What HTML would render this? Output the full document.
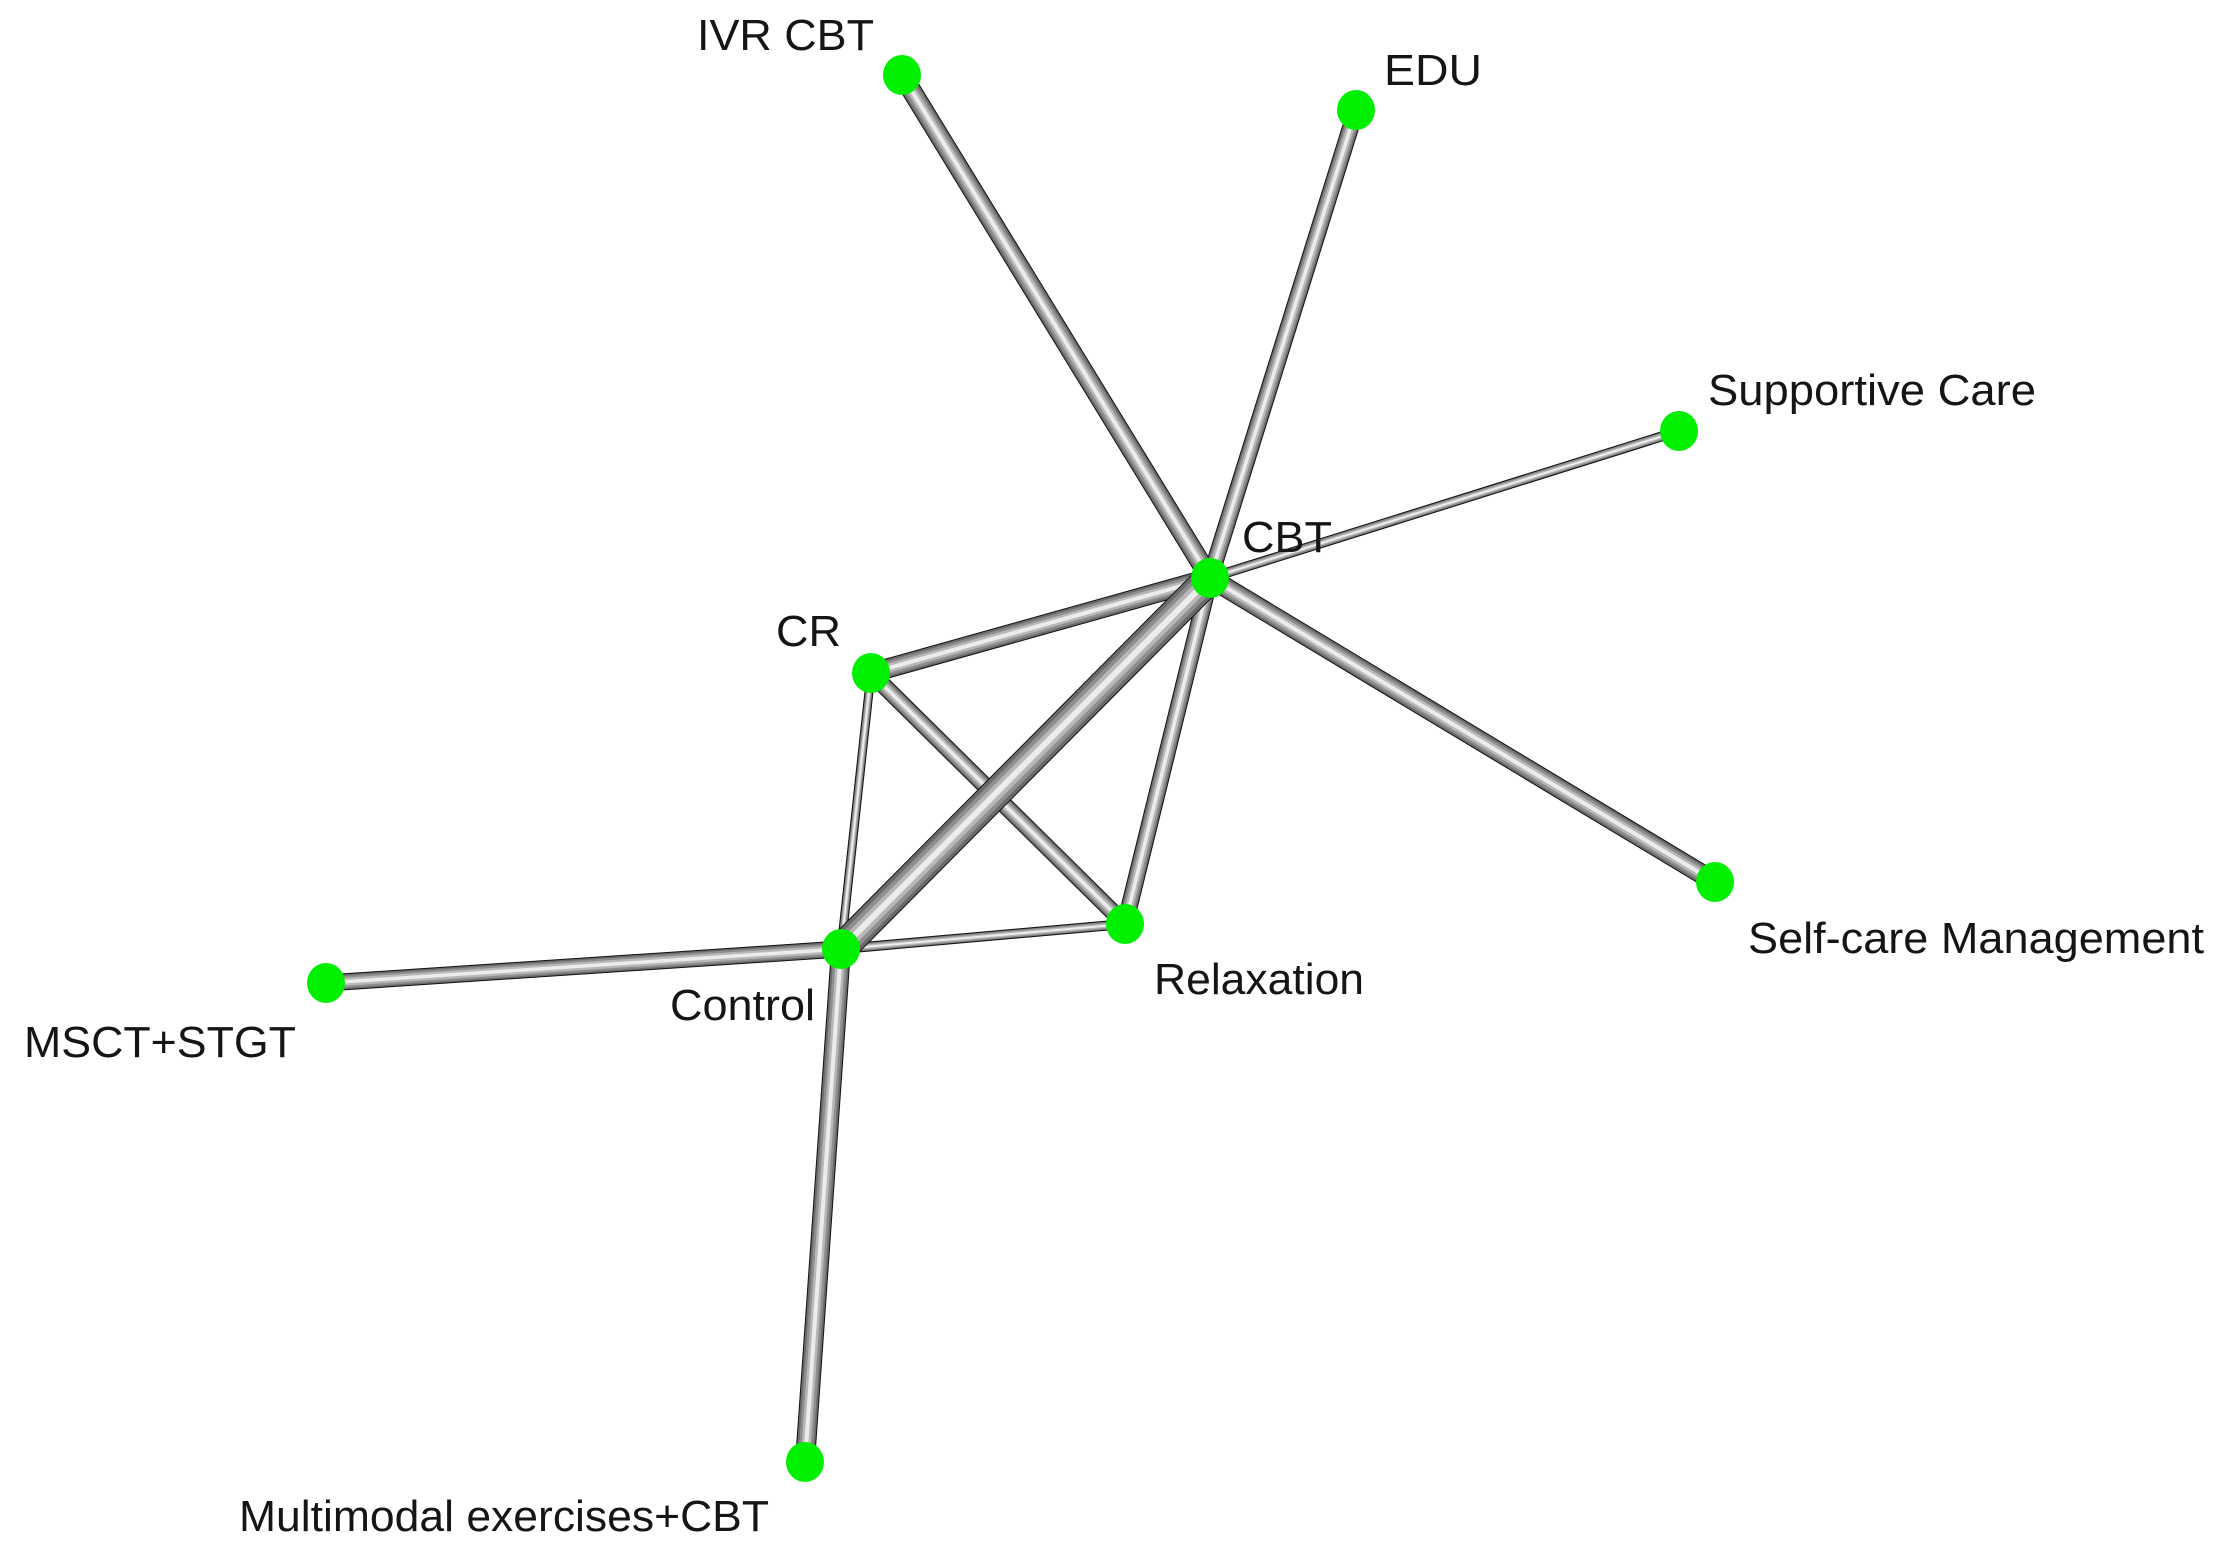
<!DOCTYPE html>
<html><head><meta charset="utf-8"><style>
html,body{margin:0;padding:0;background:#fff;}
svg{display:block;}
text{font-family:"Liberation Sans",Arial,sans-serif;font-size:44px;fill:#151515;}
</style></head><body>
<svg width="2221" height="1562" viewBox="0 0 2221 1562" xmlns="http://www.w3.org/2000/svg" xmlns:xlink="http://www.w3.org/1999/xlink">
<defs>
<line id="e1" x1="902" y1="75" x2="1210" y2="578"/>
<line id="e2" x1="1356" y1="110" x2="1210" y2="578"/>
<line id="e3" x1="1679" y1="431" x2="1210" y2="578"/>
<line id="e4" x1="1715" y1="882" x2="1210" y2="578"/>
<line id="e5" x1="871" y1="673" x2="1210" y2="578"/>
<line id="e6" x1="871" y1="673" x2="1125" y2="924"/>
<line id="e7" x1="871" y1="673" x2="841" y2="949"/>
<line id="e8" x1="841" y1="949" x2="1125" y2="924"/>
<line id="e9" x1="1210" y1="578" x2="1125" y2="924"/>
<line id="e10" x1="1210" y1="578" x2="841" y2="949"/>
<line id="e11" x1="326" y1="983" x2="841" y2="949"/>
<line id="e12" x1="805" y1="1462" x2="841" y2="949"/>
</defs>
<g fill="none">
<g stroke="#111"><use href="#e1" xlink:href="#e1" stroke-width="20"/><use href="#e2" xlink:href="#e2" stroke-width="17"/><use href="#e3" xlink:href="#e3" stroke-width="10"/><use href="#e4" xlink:href="#e4" stroke-width="20"/><use href="#e5" xlink:href="#e5" stroke-width="20"/><use href="#e6" xlink:href="#e6" stroke-width="17"/><use href="#e7" xlink:href="#e7" stroke-width="9"/><use href="#e8" xlink:href="#e8" stroke-width="10"/><use href="#e9" xlink:href="#e9" stroke-width="17"/><use href="#e11" xlink:href="#e11" stroke-width="17"/><use href="#e12" xlink:href="#e12" stroke-width="20"/></g>
<g stroke="#6a6a6a"><use href="#e1" xlink:href="#e1" stroke-width="18"/><use href="#e2" xlink:href="#e2" stroke-width="15"/><use href="#e3" xlink:href="#e3" stroke-width="8"/><use href="#e4" xlink:href="#e4" stroke-width="18"/><use href="#e5" xlink:href="#e5" stroke-width="18"/><use href="#e6" xlink:href="#e6" stroke-width="15"/><use href="#e7" xlink:href="#e7" stroke-width="7"/><use href="#e8" xlink:href="#e8" stroke-width="8"/><use href="#e9" xlink:href="#e9" stroke-width="15"/><use href="#e11" xlink:href="#e11" stroke-width="15"/><use href="#e12" xlink:href="#e12" stroke-width="18"/></g>
<g stroke="#8e8e8e"><use href="#e1" xlink:href="#e1" stroke-width="14"/><use href="#e2" xlink:href="#e2" stroke-width="12"/><use href="#e3" xlink:href="#e3" stroke-width="7"/><use href="#e4" xlink:href="#e4" stroke-width="14"/><use href="#e5" xlink:href="#e5" stroke-width="14"/><use href="#e6" xlink:href="#e6" stroke-width="12"/><use href="#e7" xlink:href="#e7" stroke-width="6"/><use href="#e8" xlink:href="#e8" stroke-width="7"/><use href="#e9" xlink:href="#e9" stroke-width="12"/><use href="#e11" xlink:href="#e11" stroke-width="12"/><use href="#e12" xlink:href="#e12" stroke-width="14"/></g>
<g stroke="#b8b8b8"><use href="#e1" xlink:href="#e1" stroke-width="9"/><use href="#e2" xlink:href="#e2" stroke-width="8"/><use href="#e3" xlink:href="#e3" stroke-width="4.5"/><use href="#e4" xlink:href="#e4" stroke-width="9"/><use href="#e5" xlink:href="#e5" stroke-width="9"/><use href="#e6" xlink:href="#e6" stroke-width="8"/><use href="#e7" xlink:href="#e7" stroke-width="4"/><use href="#e8" xlink:href="#e8" stroke-width="4.5"/><use href="#e9" xlink:href="#e9" stroke-width="8"/><use href="#e11" xlink:href="#e11" stroke-width="8"/><use href="#e12" xlink:href="#e12" stroke-width="9"/></g>
<g stroke="#ececec"><use href="#e1" xlink:href="#e1" stroke-width="4"/><use href="#e2" xlink:href="#e2" stroke-width="3.5"/><use href="#e3" xlink:href="#e3" stroke-width="2"/><use href="#e4" xlink:href="#e4" stroke-width="4"/><use href="#e5" xlink:href="#e5" stroke-width="4"/><use href="#e6" xlink:href="#e6" stroke-width="3.5"/><use href="#e7" xlink:href="#e7" stroke-width="2"/><use href="#e8" xlink:href="#e8" stroke-width="2"/><use href="#e9" xlink:href="#e9" stroke-width="3.5"/><use href="#e11" xlink:href="#e11" stroke-width="3.5"/><use href="#e12" xlink:href="#e12" stroke-width="4"/></g>
<use href="#e10" xlink:href="#e10" stroke="#111" stroke-width="31"/>
<use href="#e10" xlink:href="#e10" stroke="#6a6a6a" stroke-width="29"/>
<use href="#e10" xlink:href="#e10" stroke="#8e8e8e" stroke-width="22"/>
<use href="#e10" xlink:href="#e10" stroke="#b8b8b8" stroke-width="14"/>
<use href="#e10" xlink:href="#e10" stroke="#ececec" stroke-width="6"/>
</g>
<g fill="#00f000">
<ellipse cx="902" cy="75" rx="19" ry="20"/>
<ellipse cx="1356" cy="110" rx="19" ry="20"/>
<ellipse cx="1679" cy="431" rx="19" ry="20"/>
<ellipse cx="1210" cy="578" rx="19" ry="20"/>
<ellipse cx="871" cy="673" rx="19" ry="20"/>
<ellipse cx="1125" cy="924" rx="19" ry="20"/>
<ellipse cx="841" cy="949" rx="19" ry="20"/>
<ellipse cx="326" cy="983" rx="19" ry="20"/>
<ellipse cx="1715" cy="882" rx="19" ry="20"/>
<ellipse cx="805" cy="1462" rx="19" ry="20"/>
</g>
<text x="697" y="50" textLength="177" lengthAdjust="spacingAndGlyphs">IVR CBT</text>
<text x="1384" y="85" textLength="98" lengthAdjust="spacingAndGlyphs">EDU</text>
<text x="1708" y="405" textLength="328" lengthAdjust="spacingAndGlyphs">Supportive Care</text>
<text x="1242" y="552" textLength="90" lengthAdjust="spacingAndGlyphs">CBT</text>
<text x="776" y="646" textLength="65" lengthAdjust="spacingAndGlyphs">CR</text>
<text x="1154" y="994" textLength="210" lengthAdjust="spacingAndGlyphs">Relaxation</text>
<text x="670" y="1020" textLength="145" lengthAdjust="spacingAndGlyphs">Control</text>
<text x="24" y="1057" textLength="272" lengthAdjust="spacingAndGlyphs">MSCT+STGT</text>
<text x="1748" y="953" textLength="456" lengthAdjust="spacingAndGlyphs">Self-care Management</text>
<text x="239" y="1531" textLength="530" lengthAdjust="spacingAndGlyphs">Multimodal exercises+CBT</text>
</svg>
</body></html>
